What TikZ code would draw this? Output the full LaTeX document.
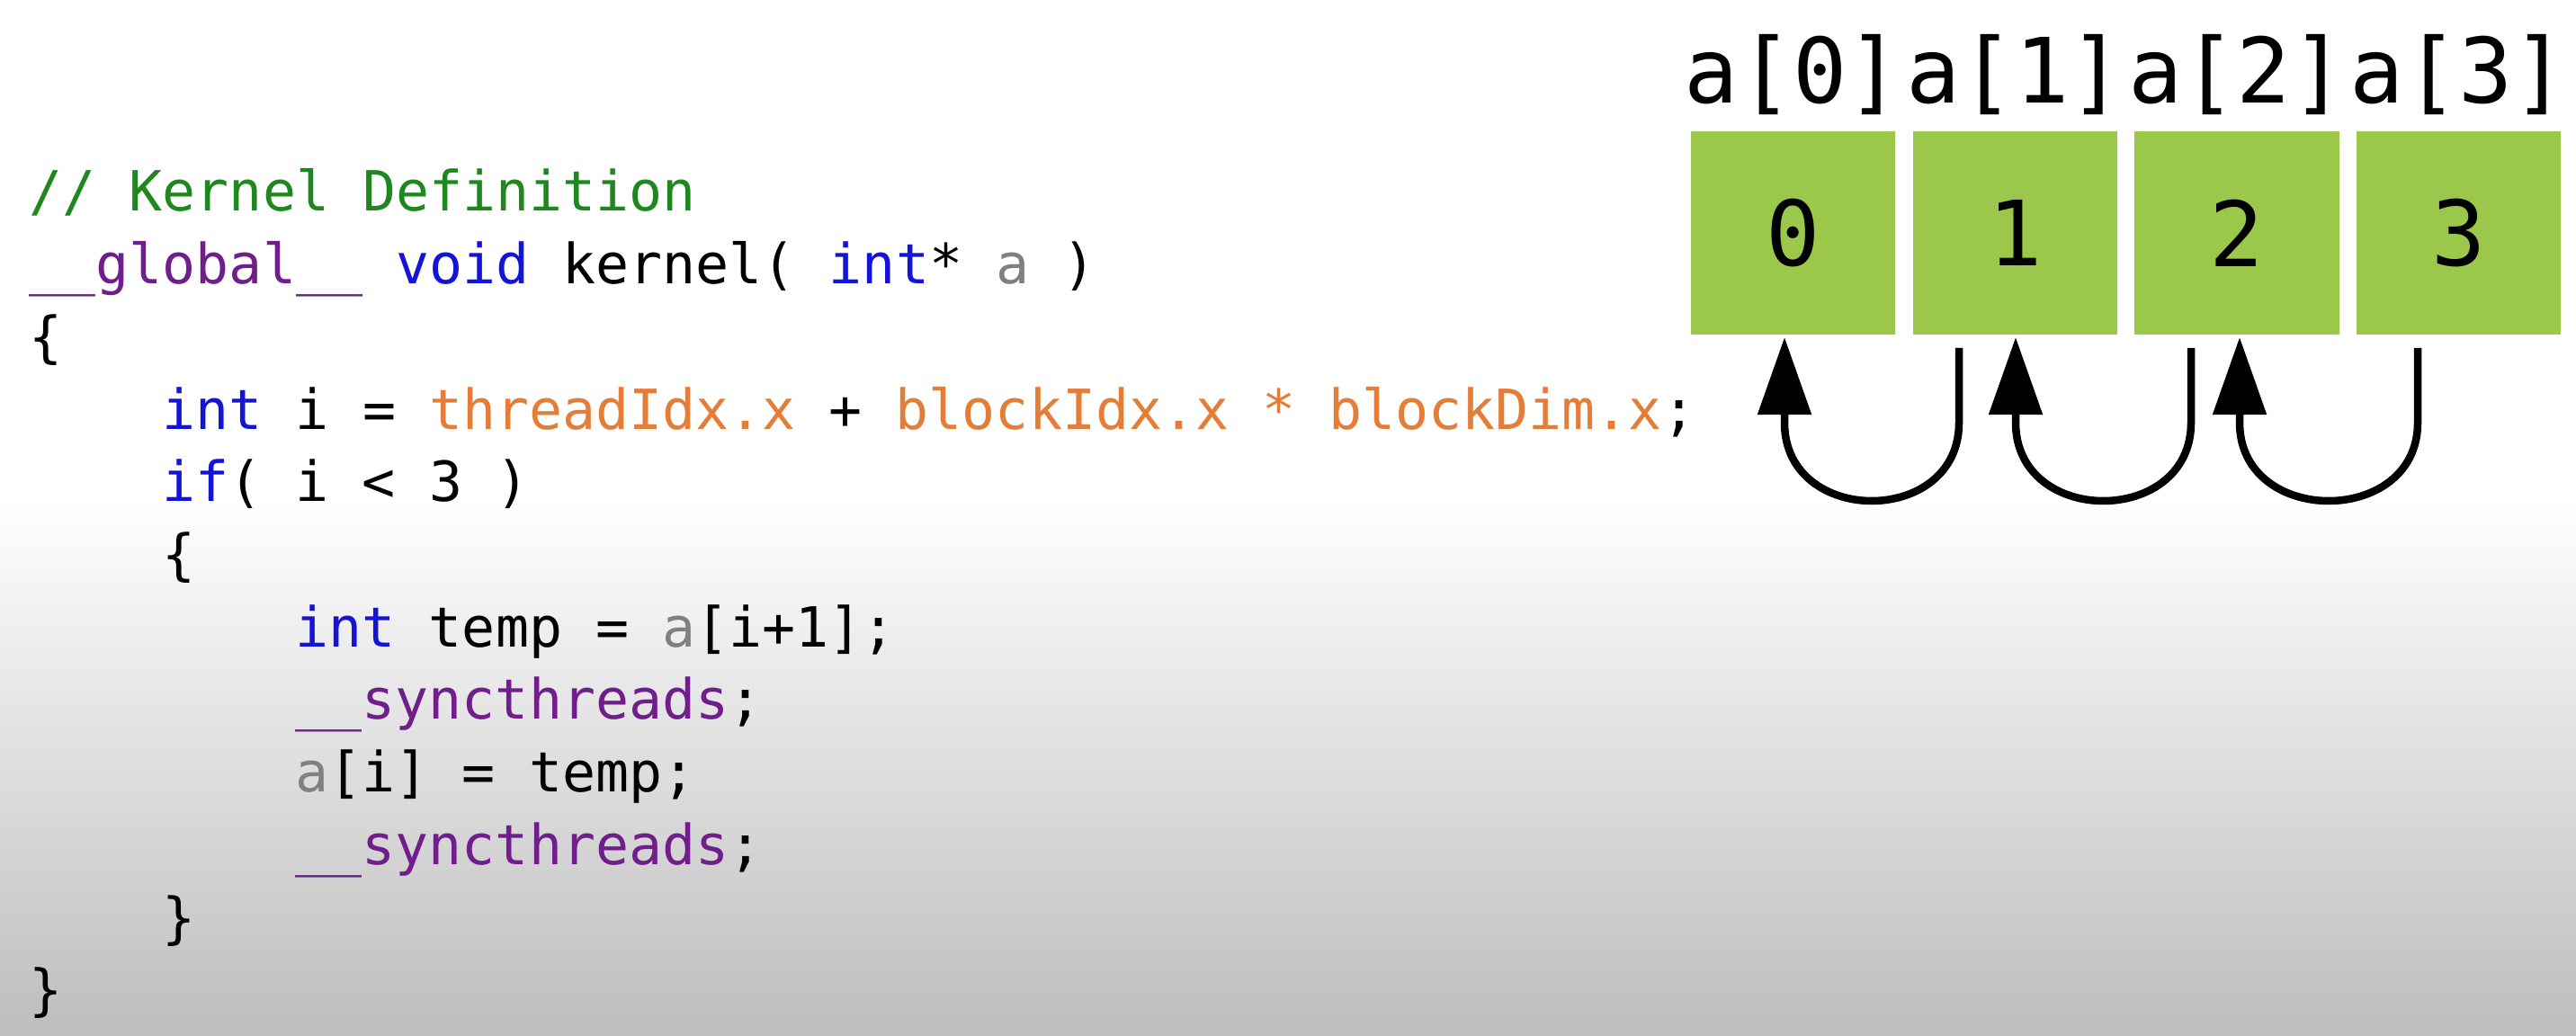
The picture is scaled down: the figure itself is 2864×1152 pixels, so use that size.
\documentclass[tikz,border=0pt]{standalone}
\usepackage{fontspec}
\setmonofont{DejaVu Sans Mono}
\usetikzlibrary{arrows.meta}
\definecolor{boxgreen}{RGB}{155,200,75}
\definecolor{cmt}{RGB}{30,135,30}
\definecolor{mac}{RGB}{111,30,140}
\definecolor{kw}{RGB}{20,20,215}
\definecolor{bi}{RGB}{228,125,55}
\definecolor{par}{RGB}{128,128,128}
\definecolor{bggray}{RGB}{189,189,189}
\begin{document}
\begin{tikzpicture}[x=0.01cm,y=-0.01cm,
  code/.style={anchor=base west,inner sep=0pt,font=\ttfamily\fontsize{17.5}{21}\selectfont},
  cell/.style={fill=boxgreen,minimum width=2.27cm,minimum height=2.26cm,inner sep=0pt,font=\ttfamily\fontsize{28.5}{30}\selectfont},
  lab/.style={anchor=base,inner sep=0pt,font=\ttfamily\fontsize{28.5}{30}\selectfont},
  swaparrow/.style={line width=0.085cm,-{Triangle[length=0.86cm,width=0.58cm]}}]
\useasboundingbox (0,0) rectangle (2864,1152);
\fill[white] (0,0) rectangle (2864,553);
\shade[top color=white,bottom color=bggray] (0,553) rectangle (2864,1152);
% code
\node[code] (L1) at (32,235) {\textcolor{cmt}{// Kernel Definition}};
\node[code] (L2) at (32,315.7) {\textcolor{mac}{\_\_global\_\_} \textcolor{kw}{void} kernel( \textcolor{kw}{int}* \textcolor{par}{a} )};
\node[code] (L3) at (32,396.4) {\{};
\node[code] (L4) at (180,477.1) {\textcolor{kw}{int} i = \textcolor{bi}{threadIdx.x} + \textcolor{bi}{blockIdx.x * blockDim.x};};
\node[code] (L5) at (180,557.8) {\textcolor{kw}{if}( i < 3 )};
\node[code] (L6) at (180,638.5) {\{};
\node[code] (L7) at (328,719.2) {\textcolor{kw}{int} temp = \textcolor{par}{a}[i+1];};
\node[code] (L8) at (328,799.9) {\textcolor{mac}{\_\_syncthreads};};
\node[code] (L9) at (328,880.6) {\textcolor{par}{a}[i] = temp;};
\node[code] (L10) at (328,961.3) {\textcolor{mac}{\_\_syncthreads};};
\node[code] (L11) at (180,1042) {\}};
\node[code] (L12) at (32,1122.7) {\}};
% array
\foreach \i/\cx in {0/1993.5,1/2240.2,2/2486.9,3/2733.6}{
  \node[cell] (b\i) at (\cx,259) {\i};
  \node[lab] (l\i) at (\cx,115) {a[\i]};
}
% arrows
\foreach \i/\t/\s in {0/1984/2178,1/2241/2436,2/2490/2688}{
  \coordinate (t\i) at (\t,375);
  \coordinate (s\i) at (\s,387);
  \draw[swaparrow] (s\i) -- (\s,470) .. controls (\s,586) and (\t,586) .. (\t,470) -- (t\i);
}
\end{tikzpicture}
\end{document}
